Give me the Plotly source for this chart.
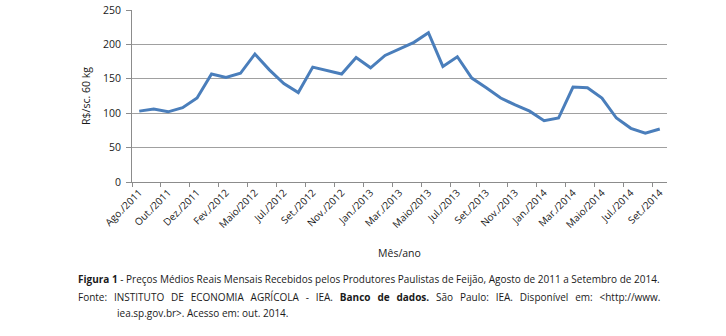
import plotly.graph_objects as go

months = ["Ago./2011", "Set./2011", "Out./2011", "Nov./2011", "Dez./2011",
          "Jan./2012", "Fev./2012", "Mar./2012", "Maio/2012", "Jun./2012",
          "Jul./2012", "Ago./2012", "Set./2012", "Out./2012", "Nov./2012",
          "Dez./2012", "Jan./2013", "Fev./2013", "Mar./2013", "Abr./2013",
          "Maio/2013", "Jun./2013", "Jul./2013", "Ago./2013", "Set./2013",
          "Out./2013", "Nov./2013", "Dez./2013", "Jan./2014", "Fev./2014",
          "Mar./2014", "Abr./2014", "Maio/2014", "Jun./2014", "Jul./2014",
          "Ago./2014", "Set./2014"]
prices = [103, 106, 102, 108, 122, 157, 152, 158, 186, 163,
          143, 130, 167, 162, 157, 181, 166, 184, 194, 203,
          217, 168, 182, 151, 137, 122, 112, 103, 89, 93,
          138, 137, 122, 93, 78, 71, 77]
tick_idx = list(range(0, len(months), 2))
tick_labels = [months[i] for i in tick_idx]

FONT = "Open Sans"
L, R, T, B = 132, 59, 10, 154
PH = 336 - T - B
PW = 726 - L - R

fig = go.Figure()
fig.add_trace(go.Scatter(x=list(range(len(months))), y=prices, mode="lines",
                         line=dict(color="#4A7EBB", width=3), hoverinfo="skip"))

fig.update_layout(
    width=726, height=336, margin=dict(l=L, r=R, t=T, b=B),
    paper_bgcolor="white", plot_bgcolor="white", showlegend=False,
    font=dict(family=FONT, size=10, color="#1a1a1a"),
    xaxis=dict(range=[-0.5, len(months) - 0.5], tickmode="array",
               tickvals=tick_idx, ticktext=tick_labels, tickangle=-45,
               ticks="", showgrid=False, showline=True, linecolor="#8c8c8c",
               linewidth=1, zeroline=False, tickfont=dict(size=10),
               automargin=False,
               minor=dict(tick0=-0.5, dtick=2, ticks="outside", ticklen=4,
                          tickcolor="#8c8c8c", showgrid=False),
               title=dict(text="Mês/ano", font=dict(size=10.5), standoff=19)),
    yaxis=dict(range=[0, 250], dtick=50, showgrid=True, gridcolor="#a0a0a0",
               gridwidth=1, showline=True, linecolor="#8c8c8c", ticks="outside",
               ticklen=5, tickcolor="#8c8c8c", zeroline=False,
               tickfont=dict(size=10.5), automargin=False, ticklabelstandoff=3,
               title=dict(text="R$/sc. 60 kg", font=dict(size=10.5), standoff=10)),
)

cap_font = dict(family=FONT, size=10, color="#1a1a1a")
sp = "\u00a0\u00a0\u2009"
line2 = sp.join(["Fonte:", "INSTITUTO", "DE", "ECONOMIA", "AGRÍCOLA", "-", "IEA.",
                 "<b>Banco" + sp + "de" + sp + "dados.</b>", "São", "Paulo:", "IEA.",
                 "Disponível", "em:", "&lt;http://www."])
fig.add_annotation(xref="paper", yref="paper", x=(76 - L) / PW, y=(336 - B - 279) / PH,
                   xanchor="left", yanchor="middle", showarrow=False, font=cap_font,
                   text="<b>Figura 1</b> - Preços Médios Reais Mensais Recebidos pelos Produtores Paulistas de Feijão, Agosto de 2011 a Setembro de 2014.")
fig.add_annotation(xref="paper", yref="paper", x=(76 - L) / PW, y=(336 - B - 297) / PH,
                   xanchor="left", yanchor="middle", showarrow=False, font=cap_font,
                   text=line2)
fig.add_annotation(xref="paper", yref="paper", x=(115 - L) / PW, y=(336 - B - 313) / PH,
                   xanchor="left", yanchor="middle", showarrow=False, font=cap_font,
                   text="iea.sp.gov.br&gt;. Acesso em: out. 2014.")

fig.write_html("out.html")
